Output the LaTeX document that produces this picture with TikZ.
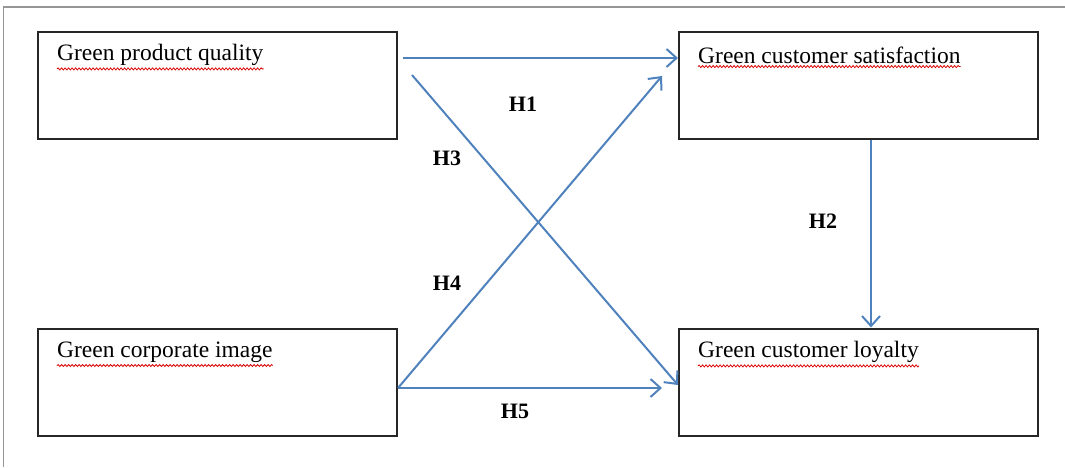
\documentclass[tikz,border=0pt]{standalone}
\usepackage{fontspec}
\setmainfont{Liberation Serif}
\usetikzlibrary{arrows.meta,calc,decorations.pathmorphing}
\definecolor{arrowblue}{RGB}{79,129,189}
\definecolor{framegray}{RGB}{150,150,150}
\tikzset{
  varbox/.style={draw=black!85,line width=2pt,minimum width=359pt,minimum height=107pt,inner sep=0pt},
  vartext/.style={anchor=west,inner sep=0pt,font=\fontsize{23.5}{26}\selectfont},
  hyp/.style={font=\fontsize{22}{24}\selectfont\bfseries,inner sep=0pt},
  link/.style={draw=arrowblue,line width=2pt,-{Straight Barb[length=10pt,width=18pt,line width=2pt]}},
  spell/.style={draw=red!85!black,line width=0.8pt,decorate,decoration={snake,amplitude=1pt,segment length=3.5pt}}
}
\begin{document}
\begin{tikzpicture}[x=1pt,y=-1pt]
\useasboundingbox (0,0) rectangle (1065,467);
% outer frame
\draw[framegray,line width=2.5pt] (3,7) -- (1065,7);
\draw[framegray,line width=1pt] (3,7) -- (3,467);
% boxes
\node[varbox] (b1) at (217.5,85.5) {};
\node[varbox] (b2) at (858.5,85.5) {};
\node[varbox] (b3) at (217.5,382) {};
\node[varbox] (b4) at (858.5,382) {};
% texts
\node[vartext] (t1) at (57,55) {Green product quality};
\node[vartext] (t2) at (698,55) {Green customer satisfaction};
\node[vartext] (t3) at (57,352) {Green corporate image};
\node[vartext] (t4) at (698,352) {Green customer loyalty};
\foreach \t in {t1,t2,t3,t4}{
  \draw[spell] ($(\t.south west)+(0,3)$) -- ($(\t.south east)+(0,3)$);
}
% connectors
\draw[link] ($(b1.north east)+(5,27)$) -- ($(b2.north west)+(0,27)$);
\draw[link] ($(b1.north east)+(14,44)$) -- ($(b4.west)+(0,3)$);
\draw[link] ($(b3.east)+(0,6)$) -- ($(b2.north west)+(-16,45)$);
\draw[link] ($(b3.east)+(0,6)$) -- ($(b4.west)+(-16,6)$);
\draw[link] ($(b2.south)+(12.5,0)$) -- ($(b4.north)+(12.5,0)$);
% labels
\node[hyp] (h1) at (523,104) {H1};
\node[hyp] (h3) at (447,158) {H3};
\node[hyp] (h4) at (447,283) {H4};
\node[hyp] (h2) at (823,221) {H2};
\node[hyp] (h5) at (515,411) {H5};
\end{tikzpicture}
\end{document}
